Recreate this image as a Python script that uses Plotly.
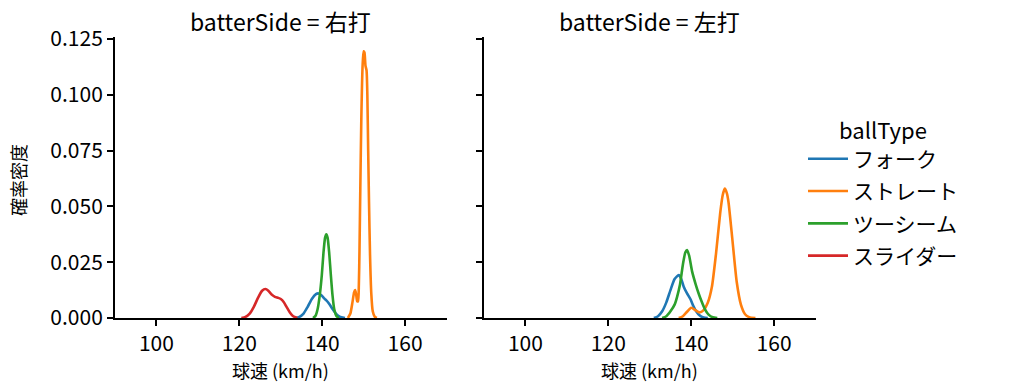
import plotly.graph_objects as go

# ---- data (x: km/h, y: density) ----
categories = ["フォーク", "ストレート", "ツーシーム", "スライダー"]
colors = ["#1f77b4", "#ff7f0e", "#2ca02c", "#d62728"]
panels = ["右打", "左打"]

# 右打 (left panel)
r_fork_x = [133.5, 134.5, 135.5, 136.5, 137.5, 138.5, 139.1, 139.8, 140.5, 141.2, 141.8, 142.5, 143.3, 144.2, 145.5]
r_fork_y = [0, 0.0005, 0.002, 0.005, 0.0085, 0.0107, 0.011, 0.0102, 0.0088, 0.0075, 0.006, 0.004, 0.002, 0.0006, 0]

r_str_x = [146.2, 146.8, 147.3, 147.7, 147.95, 148.2, 148.45, 148.65, 148.85, 149.0, 149.2, 149.45, 149.75,
           150.0, 150.2, 150.45, 150.7, 150.9, 151.1, 151.3, 151.55, 151.85, 152.2, 152.7, 153.2]
r_str_y = [0, 0.002, 0.007, 0.0115, 0.0125, 0.0105, 0.0075, 0.0075, 0.015, 0.03, 0.058, 0.09, 0.113,
           0.1195, 0.119, 0.113, 0.111, 0.100, 0.075, 0.052, 0.028, 0.011, 0.003, 0.0005, 0]

r_two_x = [137.8, 138.4, 138.9, 139.4, 139.9, 140.3, 140.7, 141.0, 141.3, 141.7, 142.1, 142.5, 142.9, 143.4, 144.0]
r_two_y = [0, 0.001, 0.004, 0.010, 0.019, 0.029, 0.036, 0.0375, 0.036, 0.029, 0.019, 0.010, 0.004, 0.001, 0]

r_sl_x = [120.5, 121.5, 122.5, 123.5, 124.5, 125.5, 126.3, 127.0, 127.8, 128.6, 129.4, 130.0, 130.7, 131.4, 132.2, 133.0, 134.0]
r_sl_y = [0, 0.0005, 0.002, 0.005, 0.009, 0.0122, 0.013, 0.0122, 0.0105, 0.0095, 0.009, 0.0085, 0.0072, 0.005, 0.0025, 0.0008, 0]

# 左打 (right panel)
l_fork_x = [131.0, 132.0, 133.0, 134.0, 135.0, 136.0, 137.0, 137.6, 138.2, 139.0, 139.8, 140.5, 141.2, 142.0, 143.0, 144.0]
l_fork_y = [0, 0.0008, 0.003, 0.007, 0.0125, 0.0175, 0.0192, 0.0175, 0.014, 0.011, 0.0085, 0.0055, 0.003, 0.0012, 0.0002, 0]

l_str_x = [137.0, 138.0, 139.0, 140.0, 141.0, 142.0, 143.0, 144.0, 145.0, 146.0, 147.0, 147.6, 148.1, 148.6,
           149.0, 150.0, 151.0, 152.0, 153.0, 154.0, 155.5]
l_str_y = [0, 0.0008, 0.0028, 0.0046, 0.0035, 0.0025, 0.0035, 0.0068, 0.014, 0.029, 0.047, 0.055, 0.058, 0.056,
           0.052, 0.034, 0.016, 0.006, 0.0017, 0.0004, 0]

l_two_x = [133.0, 134.0, 135.0, 136.0, 136.6, 137.3, 138.0, 138.6, 139.0, 139.5, 140.2, 141.1, 141.8, 142.5, 143.3, 144.2, 145.2, 146.3]
l_two_y = [0, 0.0008, 0.003, 0.006, 0.0095, 0.015, 0.024, 0.0295, 0.0305, 0.028, 0.021, 0.015, 0.011, 0.0075, 0.004, 0.0015, 0.0003, 0]

x_ticks = [100, 120, 140, 160]
y_ticks = [0, 0.025, 0.05, 0.075, 0.1, 0.125]

left_series = [(r_fork_x, r_fork_y), (r_str_x, r_str_y), (r_two_x, r_two_y), (r_sl_x, r_sl_y)]
right_series = [(l_fork_x, l_fork_y), (l_str_x, l_str_y), (l_two_x, l_two_y), None]

FONT = "Noto Sans CJK JP"
W, H = 1010, 391


def px(X):
    return X / W


def py(Y):
    return (H - Y) / H


fig = go.Figure()
for i, cat in enumerate(categories):
    for panel_idx, series in enumerate([left_series, right_series]):
        s = series[i]
        if s is None:
            continue
        xs, ys = s
        fig.add_trace(go.Scatter(
            x=xs, y=ys, mode="lines", name=cat, legendgroup=cat,
            showlegend=(panel_idx == 0),
            line=dict(color=colors[i], width=2.6, shape="spline", smoothing=0.6),
            xaxis="x" if panel_idx == 0 else "x2",
            yaxis="y" if panel_idx == 0 else "y2",
            hoverinfo="skip",
        ))

y0 = py(318)
y1 = py(36.8)
dom1 = [px(115), px(446.5)]
dom2 = [px(484), px(815.5)]

axis_common = dict(showline=True, linecolor="black", linewidth=2, ticks="outside", ticklen=6,
                   tickwidth=2, tickcolor="black", showgrid=False, zeroline=False, automargin=False,
                   tickfont=dict(family=FONT, size=21, color="black"))

fig.update_layout(
    width=W, height=H,
    margin=dict(l=0, r=0, t=0, b=0, pad=0, autoexpand=False),
    plot_bgcolor="white", paper_bgcolor="white",
    font=dict(family=FONT, color="black"),
    xaxis=dict(domain=dom1, range=[90, 170], tickvals=x_ticks, anchor="y", **axis_common),
    xaxis2=dict(domain=dom2, range=[90, 170], tickvals=x_ticks, anchor="y2", **axis_common),
    yaxis=dict(domain=[y0, y1], range=[0, 0.126], tickvals=y_ticks, tickformat=".3f", anchor="x", **axis_common),
    yaxis2=dict(domain=[y0, y1], range=[0, 0.126], tickvals=y_ticks, showticklabels=False,
                anchor="x2", matches="y", **axis_common),
    legend=dict(x=px(803), xanchor="left", y=py(110), yanchor="top",
                title=dict(text="ballType", font=dict(family=FONT, size=22), side="top center"),
                font=dict(family=FONT, size=21), bgcolor="rgba(0,0,0,0)",
                tracegroupgap=2, itemwidth=40),
    showlegend=True,
)

annotations = []
for j, (p, dom) in enumerate(zip(panels, [dom1, dom2])):
    cx = (dom[0] + dom[1]) / 2
    annotations.append(dict(text=f"batterSide = {p}", x=cx, y=py(21), xref="paper", yref="paper",
                            showarrow=False, font=dict(family=FONT, size=23), xanchor="center", yanchor="middle"))
    annotations.append(dict(text="球速 (km/h)", x=cx, y=py(370), xref="paper", yref="paper",
                            showarrow=False, font=dict(family=FONT, size=18), xanchor="center", yanchor="middle"))
annotations.append(dict(text="確率密度", x=px(18), y=py(180), xref="paper", yref="paper", textangle=-90,
                        showarrow=False, font=dict(family=FONT, size=18), xanchor="center", yanchor="middle"))
fig.update_layout(annotations=annotations)

fig.write_html("out.html", config={"displayModeBar": False},
               post_script="document.body.style.margin='0';document.body.style.overflow='hidden';")
